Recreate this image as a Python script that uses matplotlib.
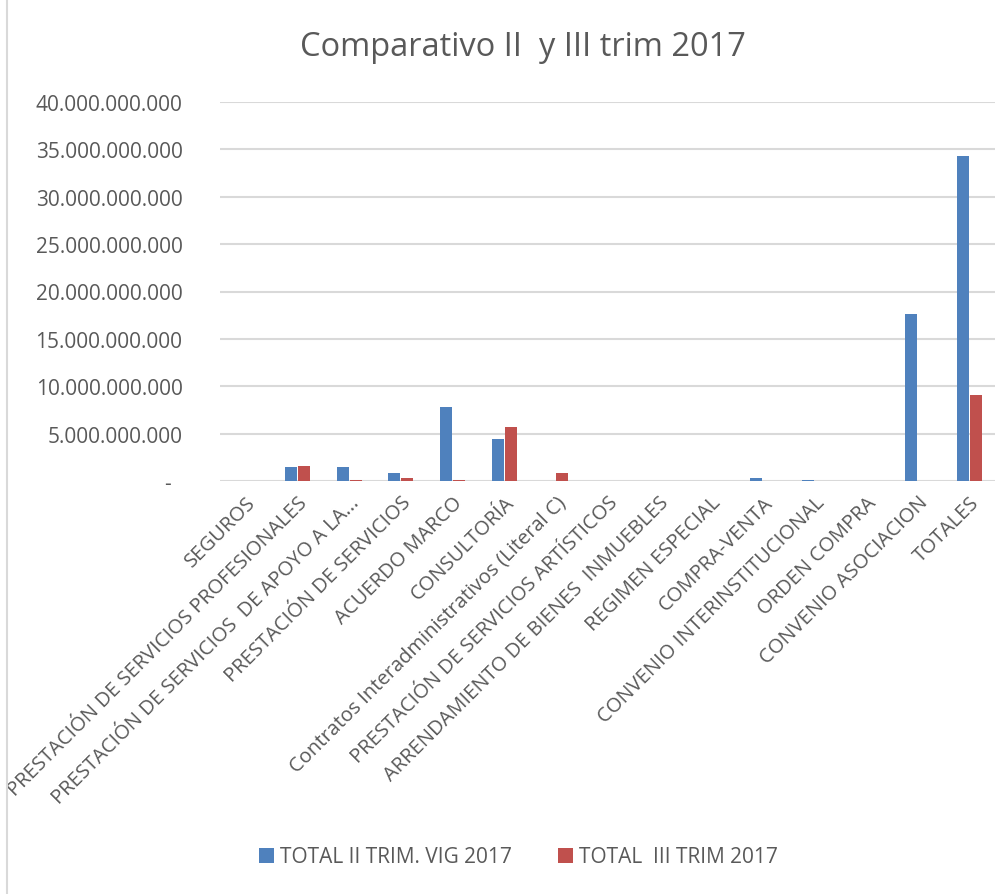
import matplotlib
matplotlib.use("Agg")
import matplotlib.pyplot as plt
import numpy as np
from matplotlib.ticker import FuncFormatter
from matplotlib.lines import Line2D

categories = [
    "SEGUROS",
    "PRESTACIÓN DE SERVICIOS PROFESIONALES",
    "PRESTACIÓN DE SERVICIOS  DE APOYO A LA...",
    "PRESTACIÓN DE SERVICIOS",
    "ACUERDO MARCO",
    "CONSULTORÍA",
    "Contratos Interadministrativos (Literal C)",
    "PRESTACIÓN DE SERVICIOS ARTÍSTICOS",
    "ARRENDAMIENTO DE BIENES  INMUEBLES",
    "REGIMEN ESPECIAL",
    "COMPRA-VENTA",
    "CONVENIO INTERINSTITUCIONAL",
    "ORDEN COMPRA",
    "CONVENIO ASOCIACION",
    "TOTALES",
]
series_names = ["TOTAL II TRIM. VIG 2017", "TOTAL  III TRIM 2017"]
total_ii = [0, 1.43e9, 1.43e9, 0.82e9, 7.77e9, 4.47e9, 0, 0, 0, 0,
            0.28e9, 0.10e9, 0, 17.58e9, 34.3e9]
total_iii = [0, 1.56e9, 0.07e9, 0.36e9, 0.08e9, 5.68e9, 0.82e9, 0, 0, 0,
             0, 0, 0, 0, 9.05e9]
yticks = [0, 5e9, 10e9, 15e9, 20e9, 25e9, 30e9, 35e9, 40e9]

FONT = ["Open Sans", "DejaVu Sans"]
plt.rcParams["font.family"] = FONT
TXT = "#595959"

fig = plt.figure(figsize=(10.05, 8.95), dpi=100)
ax = fig.add_axes([220 / 1005, 413 / 895, 775 / 1005, 379 / 895])

x = np.arange(len(categories))
bw = 0.235
ax.bar(x - 0.125, total_ii, width=bw, color="#4F81BD", label=series_names[0], zorder=3)
ax.bar(x + 0.125, total_iii, width=bw, color="#C0504D", label=series_names[1], zorder=3)

ax.set_xlim(-0.5, len(categories) - 0.5)
ax.set_ylim(0, 40e9)
ax.set_yticks(yticks)


def fmt(v, pos):
    if v == 0:
        return "-  "
    return f"{int(round(v)):,}".replace(",", ".")


ax.yaxis.set_major_formatter(FuncFormatter(fmt))
ax.grid(axis="y", color="#D9D9D9", linewidth=1.5, zorder=0)
ax.set_axisbelow(True)
for s in ax.spines.values():
    s.set_visible(False)
ax.tick_params(axis="y", length=0, pad=27, labelsize=15, labelcolor=TXT)
ax.tick_params(axis="x", length=0, pad=8, labelsize=14.5, labelcolor=TXT)
ax.set_xticks(x)
ax.set_xticklabels(categories, rotation=45, ha="right", rotation_mode="anchor")

fig.text(0.52, 1 - 47 / 895, "Comparativo II  y III trim 2017", ha="center", va="center",
         fontsize=23.5, color=TXT)

fig.legend(loc="center", bbox_to_anchor=(0.516, 1 - 858 / 895), ncol=2, frameon=False,
           fontsize=15, labelcolor=TXT, handlelength=0.7, handleheight=0.7,
           handletextpad=0.3, columnspacing=2.2)

fig.add_artist(Line2D([7 / 1005, 7 / 1005], [0, 1], transform=fig.transFigure,
                      color="#D9D9D9", linewidth=1.5))

fig.savefig("out.png", dpi=100)
